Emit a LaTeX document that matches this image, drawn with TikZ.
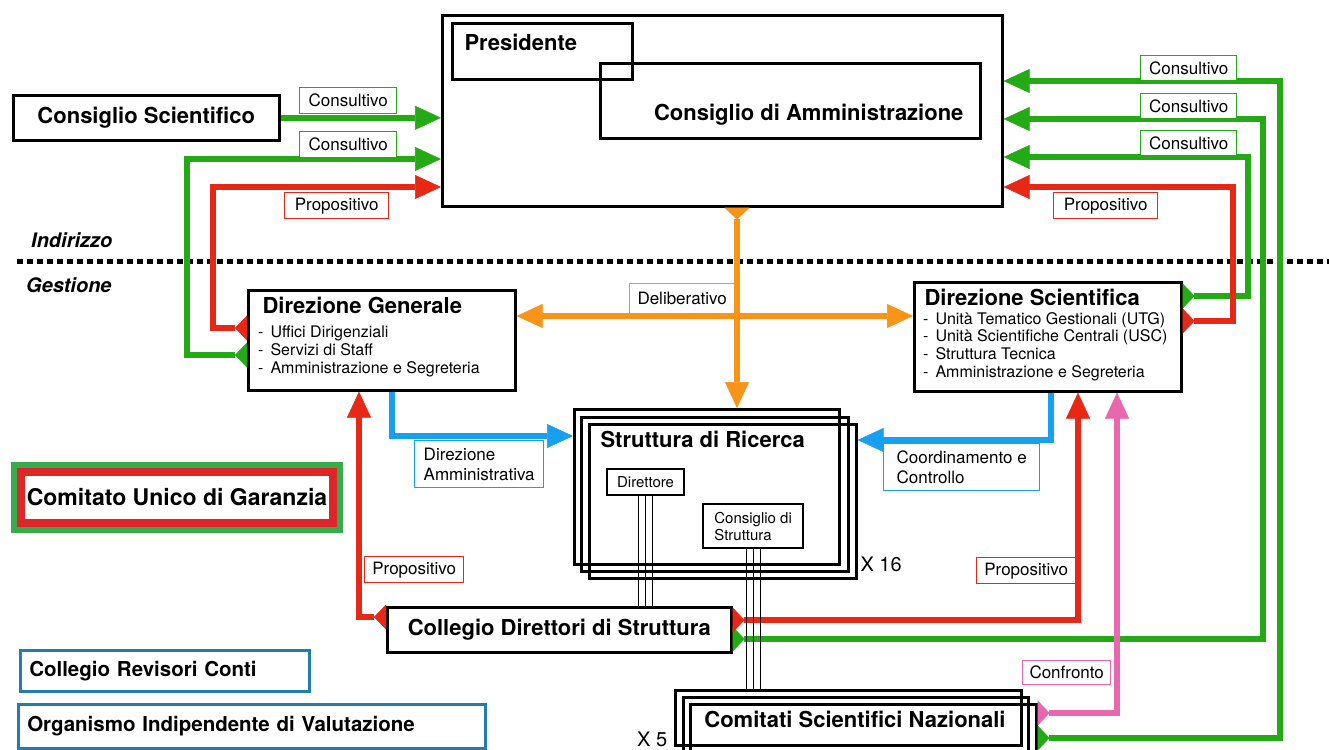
\documentclass[tikz,border=0pt]{standalone}
\usepackage{fontspec}
\setmainfont{TeX Gyre Heros}
\usetikzlibrary{arrows.meta, positioning, calc}
\definecolor{vgreen}{RGB}{36,170,20}
\definecolor{vred}{RGB}{232,40,22}
\definecolor{vorange}{RGB}{250,148,24}
\definecolor{vblue}{RGB}{24,160,240}
\definecolor{vpink}{RGB}{232,104,176}
\definecolor{cugreen}{RGB}{54,172,76}
\definecolor{cured}{RGB}{222,38,42}
\definecolor{oblue}{RGB}{34,124,174}
\tikzset{
    bighead/.tip={Triangle[length=26pt, width=24pt, line width=0.5pt]},
    smalltail/.tip={Triangle[reversed, length=12pt, width=25pt, line width=0.5pt]},
    box/.style={draw, line width=2.6pt, fill=white, inner sep=0pt, anchor=north west},
    frame/.style={box, fill=none},
    inbox/.style={draw, line width=2.2pt, fill=white, inner sep=0pt, anchor=north west, font=\fontsize{15}{17}\selectfont},
    title/.style={font=\fontsize{22}{26}\selectfont\bfseries},
    items/.style={inner sep=0pt, align=left, font=\fontsize{16}{17.8}\selectfont},
    stage/.style={inner sep=0pt, font=\fontsize{20}{24}\selectfont\bfseries\itshape},
    lab/.style={draw=#1, line width=1.4pt, fill=white, anchor=north west, inner sep=0pt, font=\fontsize{17}{19.5}\selectfont},
    obox/.style={draw=oblue, line width=2.5pt, anchor=north west, inner xsep=9pt, inner ysep=0pt, align=left, font=\fontsize{20.5}{24}\selectfont\bfseries},
    cug/.style={draw=cured, line width=8pt, fill=white, preaction={draw=cugreen, line width=20pt}, anchor=north west, inner sep=0pt},
    flow/.style={line width=6pt, draw=#1, -bighead},
    tailflow/.style={line width=6pt, draw=#1, smalltail-bighead},
    divider/.style={line width=5pt, dash pattern=on 5.5pt off 4.5pt},
    wire/.style={line width=1.2pt},
}
\begin{document}
\begin{tikzpicture}[x=1pt, y=-1pt]
    \clip (0,0) rectangle (1329,749);
    \fill[white] (0,0) rectangle (1329,749);

    \draw[divider] (17,261) -- (1329,261);
    \node[stage, anchor=west] (indirizzo) at (31,240) {Indirizzo};
    \node[stage, anchor=west] (gestione) at (26,285) {Gestione};

    \node[box, minimum width=560pt, minimum height=191pt] (vertice) at (441,14) {};
    \node[frame, minimum width=180pt, minimum height=56pt] (pres) at (451,22) {};
    \node[title, anchor=west] (prestxt) at (461,42) {Presidente};
    \node[frame, minimum width=380pt, minimum height=75pt] (cda) at (599,62) {};
    \node[title, anchor=east] (cdatxt) at (967,115) {Consiglio di Amministrazione};

    \node[box, title, minimum width=266pt, minimum height=45pt] (cs) at (12,94) {Consiglio Scientifico};

    \node[box, minimum width=267pt, minimum height=100pt] (dg) at (247,289) {};
    \node[title, anchor=west] (dgtxt) at (259,305) {Direzione Generale};
    \node[items, anchor=north west] (dglist) at (258,326) {-\hspace{7pt}Uffici Dirigenziali\\-\hspace{7pt}Servizi di Staff\\-\hspace{7pt}Amministrazione e Segreteria};

    \node[box, minimum width=267pt, minimum height=109pt] (ds) at (913,281) {};
    \node[title, anchor=west] (dstxt) at (921,297) {Direzione Scientifica};
    \node[items, anchor=north west] (dslist) at (923,312) {-\hspace{7pt}Unità Tematico Gestionali (UTG)\\-\hspace{7pt}Unità Scientifiche Centrali (USC)\\-\hspace{7pt}Struttura Tecnica\\-\hspace{7pt}Amministrazione e Segreteria};

    \node[frame, minimum width=265pt, minimum height=155pt] (sr1) at (573,408) {};
    \node[frame, minimum width=267pt, minimum height=154pt] (sr2) at (580,416) {};
    \node[frame, minimum width=267pt, minimum height=154pt] (sr3) at (588,423) {};
    \node[title, anchor=west] (srtxt) at (597,439) {Struttura di Ricerca};
    \node[inbox, minimum width=77pt, minimum height=26pt] (dir) at (606,468) {Direttore};
    \node[inbox, minimum width=100pt, minimum height=44pt, align=left] (cds) at (702,503) {Consiglio di\\Struttura};
    \node[anchor=west, font=\fontsize{20}{24}\selectfont] (x16) at (857,564) {X 16};

    \node[box, title, minimum width=344pt, minimum height=45pt] (cdir) at (386,606) {Collegio Direttori di Struttura};

    \node[frame, minimum width=346pt, minimum height=55pt] (cn1) at (674,689) {};
    \node[frame, minimum width=345pt, minimum height=56pt] (cn2) at (682,696) {};
    \node[frame, minimum width=346pt, minimum height=64pt] (cn3) at (689,703) {};
    \node[title] (cntxt) at (855,719) {Comitati Scientifici Nazionali};
    \node[anchor=west, inner sep=0pt, font=\fontsize{20}{24}\selectfont] (x5) at (637,739) {X 5};

    \node[cug, font=\fontsize{23}{27}\selectfont\bfseries, minimum width=312pt, minimum height=51pt] (cug) at (17,468) {Comitato Unico di Garanzia};
    \node[obox, text width=271pt, minimum height=41pt] (crc) at (19,649) {Collegio Revisori Conti};
    \node[obox, text width=449pt, minimum height=44pt] (oiv) at (17,703) {Organismo Indipendente di Valutazione};

    \node[lab=vorange, minimum width=105pt, minimum height=30pt] (ldel) at (629,283) {Deliberativo};

    \coordinate (oc) at (737,316);
    \draw[tailflow=vorange] (vertice.south -| oc) -- (sr1.north -| oc);
    \draw[line width=6pt, draw=vorange, bighead-bighead] (dg.east |- oc) -- (ds.west |- oc);

    \draw[flow=vgreen] (cs.east) -- (cs.east -| vertice.west);
    \coordinate (gl) at (187,355);
    \coordinate (glt) at (187,159);
    \draw[tailflow=vgreen] (dg.west |- gl) -- (gl) -- (glt) -- (glt -| vertice.west);
    \coordinate (rl) at (213,328);
    \coordinate (rlt) at (213,187);
    \draw[tailflow=vred] (dg.west |- rl) -- (rl) -- (rlt) -- (rlt -| vertice.west);

    \coordinate (g1) at (1280,738);
    \coordinate (g1t) at (1280,81);
    \draw[tailflow=vgreen] (cn3.east |- g1) -- (g1) -- (g1t) -- (g1t -| vertice.east);
    \coordinate (g2) at (1263,639);
    \coordinate (g2t) at (1263,119);
    \draw[tailflow=vgreen] (cdir.east |- g2) -- (g2) -- (g2t) -- (g2t -| vertice.east);
    \coordinate (g3) at (1248,296);
    \coordinate (g3t) at (1248,157);
    \draw[tailflow=vgreen] (ds.east |- g3) -- (g3) -- (g3t) -- (g3t -| vertice.east);
    \coordinate (rr) at (1233,321);
    \coordinate (rrt) at (1233,187);
    \draw[tailflow=vred] (ds.east |- rr) -- (rr) -- (rrt) -- (rrt -| vertice.east);

    \coordinate (bl) at (392,436);
    \draw[flow=vblue] (dg.south -| bl) -- (bl) -- (bl -| sr1.west);
    \coordinate (br) at (1051,440);
    \draw[flow=vblue] (ds.south -| br) -- (br) -- (br -| sr3.east);

    \coordinate (rb) at (359,617);
    \draw[tailflow=vred] (cdir.west |- rb) -- (rb) -- (rb |- dg.south);
    \coordinate (rc) at (1078,620);
    \draw[tailflow=vred] (cdir.east |- rc) -- (rc) -- (rc |- ds.south);
    \coordinate (pk) at (1117,713);
    \draw[tailflow=vpink] (cn3.east |- pk) -- (pk) -- (pk |- ds.south);

    \node[lab=vgreen, minimum width=97pt, minimum height=26pt] (lcs) at (299,87) {Consultivo};
    \node[lab=vgreen, minimum width=97pt, minimum height=26pt] (lgl) at (299,131) {Consultivo};
    \node[lab=vred, minimum width=104pt, minimum height=26pt] (lrl) at (284,192) {Propositivo};
    \node[lab=vgreen, minimum width=96pt, minimum height=25pt] (lg1) at (1140,55) {Consultivo};
    \node[lab=vgreen, minimum width=96pt, minimum height=25pt] (lg2) at (1140,93) {Consultivo};
    \node[lab=vgreen, minimum width=96pt, minimum height=25pt] (lg3) at (1140,130) {Consultivo};
    \node[lab=vred, minimum width=104pt, minimum height=26pt] (lrr) at (1053,192) {Propositivo};
    \node[lab=vblue, minimum width=129pt, minimum height=47pt, align=left] (lbl) at (414,440) {Direzione\\Amministrativa};
    \node[lab=vblue, minimum width=156pt, minimum height=47pt, align=left] (lbr) at (883,443) {Coordinamento e\\Controllo};
    \node[lab=vred, minimum width=99pt, minimum height=26pt] (lrb) at (364,556) {Propositivo};
    \node[lab=vred, minimum width=99pt, minimum height=26pt] (lrc) at (976,557) {Propositivo};
    \node[lab=vpink, minimum width=88pt, minimum height=24pt] (lpk) at (1022,660) {Confronto};

    \foreach \dx in {-7,0,7} {
        \path ([xshift=\dx pt]dir.south) coordinate (wd);
        \draw[wire] (wd) -- (wd |- cdir.north);
        \path ([xshift=\dx pt]cds.south) coordinate (wc);
        \draw[wire] (wc) -- (wc |- cn1.north);
    }
\end{tikzpicture}
\end{document}
